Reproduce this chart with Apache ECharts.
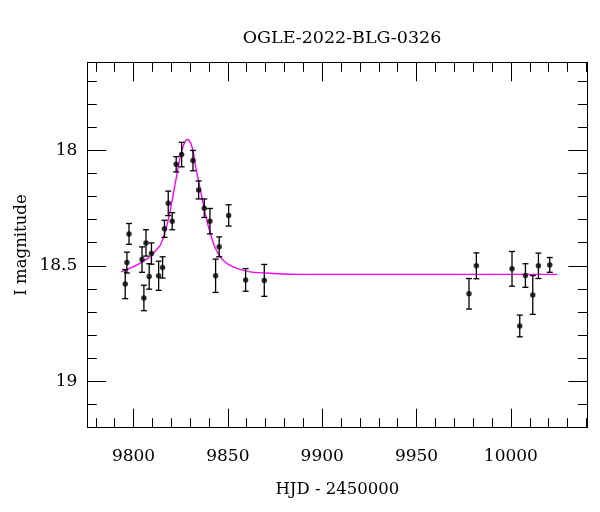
<!DOCTYPE html>
<html><head><meta charset="utf-8">
<script src="https://cdn.jsdelivr.net/npm/echarts@6/dist/echarts.min.js"></script>
<style>html,body{margin:0;padding:0;background:#fff}#c{width:600px;height:512px}</style>
</head><body><div id="c"></div>
<script>
// Observations
const obsHJD = [9795.6, 9796.5, 9797.6, 9804.5, 9805.5, 9806.6, 9808.3, 9809.5, 9813.3, 9815.4, 9816.4, 9818.4, 9820.5, 9822.6, 9825.5, 9831.5, 9834.5, 9837.5, 9840.5, 9843.5, 9845.4, 9850.4, 9859.4, 9869.3, 9977.8, 9981.7, 10000.6, 10004.7, 10007.7, 10011.6, 10014.6, 10020.6];
const obsMag = [18.579, 18.486, 18.362, 18.473, 18.639, 18.401, 18.546, 18.447, 18.543, 18.507, 18.340, 18.230, 18.307, 18.061, 18.019, 18.045, 18.172, 18.251, 18.307, 18.543, 18.418, 18.282, 18.561, 18.563, 18.621, 18.500, 18.513, 18.760, 18.542, 18.626, 18.500, 18.496];
const obsErr = [0.063, 0.045, 0.045, 0.055, 0.055, 0.057, 0.055, 0.046, 0.063, 0.046, 0.037, 0.053, 0.037, 0.033, 0.053, 0.044, 0.039, 0.040, 0.055, 0.072, 0.043, 0.046, 0.049, 0.069, 0.066, 0.056, 0.075, 0.047, 0.051, 0.084, 0.055, 0.032];
// Model curve
const modelHJD = [9793.5, 9799.2, 9804.5, 9808.9, 9812.4, 9814.2, 9816.8, 9819.5, 9822.1, 9824.8, 9826.5, 9827.7, 9828.6, 9829.5, 9830.4, 9831.7, 9832.7, 9835.4, 9838.0, 9840.7, 9843.3, 9846.0, 9849.5, 9854.8, 9861.9, 9874.2, 9888.4, 10024.5];
const modelMag = [18.526, 18.507, 18.484, 18.460, 18.428, 18.411, 18.353, 18.259, 18.144, 18.029, 17.978, 17.959, 17.954, 17.959, 17.971, 18.009, 18.061, 18.169, 18.274, 18.360, 18.422, 18.461, 18.490, 18.511, 18.526, 18.533, 18.537, 18.537];
// Axes
const xMajorTicks = [9800, 9850, 9900, 9950, 10000];
const yMajorTicks = [18, 18.5, 19];
const xRange = [9775.5, 10040.5];
const yRange = [17.62, 19.2];
const titleText = 'OGLE-2022-BLG-0326';
const xName = 'HJD - 2450000';
const yName = 'I magnitude';

const xMinorTicks = []; for (let v = 9780; v <= 10040; v += 10) xMinorTicks.push(v);
const yMinorTicks = []; for (let k = 177; k <= 192; k++) yMinorTicks.push(k / 10);

const FONT = 'DejaVu Serif';
const lineCol = '#000';

function xAx(pos, ticks, len, labels, extra) {
  return Object.assign({
    type: 'value', position: pos, min: xRange[0], max: xRange[1],
    axisLine: { show: labels, lineStyle: { color: lineCol, width: 1 } },
    axisTick: { show: true, inside: true, length: len, customValues: ticks, lineStyle: { color: lineCol, width: 1 } },
    axisLabel: labels ? { show: true, customValues: xMajorTicks, margin: 20, color: '#000', fontFamily: FONT, fontSize: 17, formatter: v => String(v) } : { show: false },
    splitLine: { show: false }
  }, extra || {});
}
function yAx(pos, ticks, len, labels, extra) {
  return Object.assign({
    type: 'value', position: pos, min: yRange[0], max: yRange[1], inverse: true,
    axisLine: { show: labels, lineStyle: { color: lineCol, width: 1 } },
    axisTick: { show: true, inside: true, length: len, customValues: ticks, lineStyle: { color: lineCol, width: 1 } },
    axisLabel: labels ? { show: true, customValues: yMajorTicks, margin: 10, color: '#000', fontFamily: FONT, fontSize: 17, formatter: v => String(v) } : { show: false },
    splitLine: { show: false }
  }, extra || {});
}

const chart = echarts.init(document.getElementById('c'), null, { renderer: 'canvas' });
chart.setOption({
  animation: false,
  backgroundColor: '#fff',
  title: { text: titleText, left: 337, textAlign: 'center', top: 24,
    textStyle: { fontFamily: FONT, fontSize: 17.5, fontWeight: 'normal', color: '#000' } },
  grid: { left: 87.3, right: 12.7, top: 62.3, bottom: 84.3, show: false },
  xAxis: [
    xAx('bottom', xMajorTicks, 19, true, { name: xName, nameLocation: 'middle', nameGap: 54, nameMoveOverlap: false, nameTextStyle: { fontFamily: FONT, fontSize: 16.5, color: '#000' } }),
    xAx('bottom', xMinorTicks, 9.5, false),
    xAx('top', xMajorTicks, 19, false, { axisLine: { show: true, lineStyle: { color: lineCol, width: 1 } } }),
    xAx('top', xMinorTicks, 9.5, false)
  ],
  yAxis: [
    yAx('left', yMajorTicks, 19, true, { name: yName, nameLocation: 'middle', nameGap: 57, nameMoveOverlap: false, nameTextStyle: { fontFamily: FONT, fontSize: 16.5, color: '#000' } }),
    yAx('left', yMinorTicks, 9.5, false),
    yAx('right', yMajorTicks, 19, false, { axisLine: { show: true, lineStyle: { color: lineCol, width: 1 } } }),
    yAx('right', yMinorTicks, 9.5, false)
  ],
  series: [
    {
      type: 'line', xAxisIndex: 0, yAxisIndex: 0,
      data: modelHJD.map((x, i) => [x, modelMag[i]]),
      smooth: 0.3, showSymbol: false, silent: true,
      lineStyle: { color: '#ff00ff', width: 1.4 }, z: 2
    },
    {
      type: 'custom', xAxisIndex: 0, yAxisIndex: 0,
      data: obsHJD.map((x, i) => [x, obsMag[i] - obsErr[i], obsMag[i] + obsErr[i]]),
      encode: { x: 0, y: [1, 2] },
      renderItem: function (params, api) {
        const x = api.value(0);
        const p1 = api.coord([x, api.value(1)]);
        const p2 = api.coord([x, api.value(2)]);
        const w = 3;
        const st = { stroke: '#000', lineWidth: 1.3 };
        return { type: 'group', children: [
          { type: 'line', shape: { x1: p1[0], y1: p1[1], x2: p2[0], y2: p2[1] }, style: st },
          { type: 'line', shape: { x1: p1[0] - w, y1: p1[1], x2: p1[0] + w, y2: p1[1] }, style: st },
          { type: 'line', shape: { x1: p2[0] - w, y1: p2[1], x2: p2[0] + w, y2: p2[1] }, style: st }
        ] };
      },
      z: 3
    },
    {
      type: 'scatter', xAxisIndex: 0, yAxisIndex: 0,
      data: obsHJD.map((x, i) => [x, obsMag[i]]),
      symbol: 'circle', symbolSize: 5.5,
      itemStyle: { color: '#000' }, z: 4
    }
  ]
});
</script></body></html>
